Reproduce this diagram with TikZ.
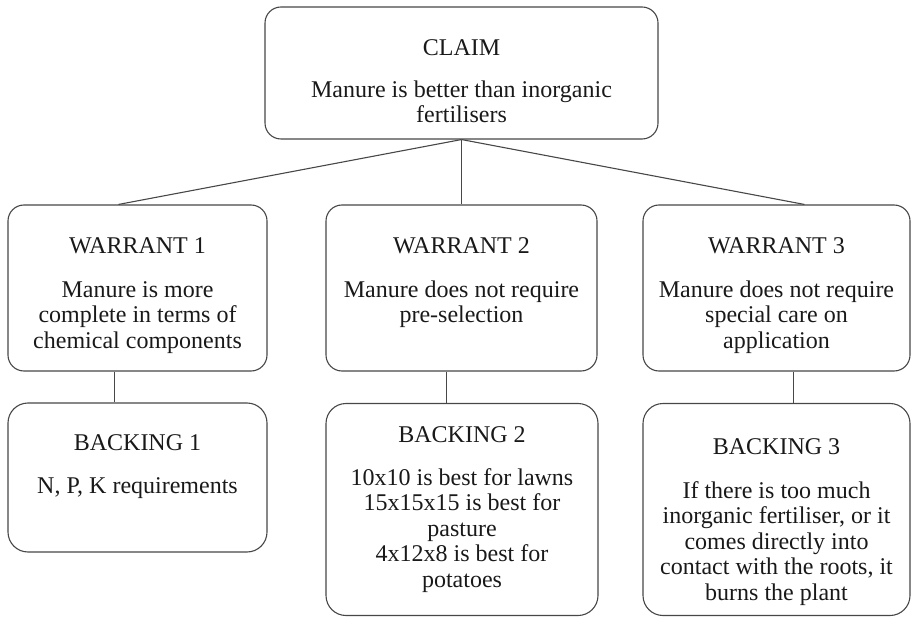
\documentclass[tikz,border=0pt]{standalone}
\usepackage{fontspec}
\setmainfont{Liberation Serif}
\newcommand{\fl}{\rule{0pt}{18pt}}
\begin{document}
\begin{tikzpicture}[x=1pt,y=-1pt,
  box/.style={draw=black!72, line width=1.1pt, rounded corners=16pt, inner sep=0pt},
  bbox/.style={box, rounded corners=20pt},
  txt/.style={inner sep=0pt, align=center, font=\fontsize{24}{25.5}\selectfont, text=black!90},
  ttl/.style={txt, anchor=base},
  bdy/.style={txt, anchor=north},
  link/.style={draw=black!72, line width=1.1pt}]
\useasboundingbox (0,0) rectangle (912,617);
% boxes
\node[box, minimum width=393pt, minimum height=132pt] (claim) at (461.5,73) {};
\node[box, minimum width=259pt, minimum height=166pt] (w1) at (137.5,288) {};
\node[box, minimum width=271pt, minimum height=166pt] (w2) at (461.5,288) {};
\node[box, minimum width=267pt, minimum height=166pt] (w3) at (776.5,288) {};
\node[bbox, minimum width=259pt, minimum height=149pt] (b1) at (137.5,477.5) {};
\node[bbox, minimum width=272pt, minimum height=212pt] (b2) at (462,509.5) {};
\node[bbox, minimum width=267pt, minimum height=212pt] (b3) at (776.5,509.5) {};
% texts
\node[ttl] (tclaim) at (461.5,56) {CLAIM};
\node[bdy] (bclaim) at (461.5,79) {\fl Manure is better than inorganic\\fertilisers};
\node[ttl] (tw1) at (137.5,254) {WARRANT 1};
\node[bdy] (bw1) at (137.5,279) {\fl Manure is more\\complete in terms of\\chemical components};
\node[ttl] (tw2) at (461.5,254) {WARRANT 2};
\node[bdy] (bw2) at (461.5,279) {\fl Manure does not require\\pre-selection};
\node[ttl] (tw3) at (776.5,254) {WARRANT 3};
\node[bdy] (bw3) at (776.5,279) {\fl Manure does not require\\special care on\\application};
\node[ttl] (tb1) at (137.5,450) {BACKING 1};
\node[bdy] (bb1) at (137.5,475) {\fl N, P, K requirements};
\node[ttl] (tb2) at (462,442) {BACKING 2};
\node[bdy] (bb2) at (462,467) {\fl 10x10 is best for lawns\\15x15x15 is best for\\pasture\\4x12x8 is best for\\potatoes};
\node[ttl] (tb3) at (776.5,454) {BACKING 3};
\node[bdy] (bb3) at (776.5,480) {\fl If there is too much\\inorganic fertiliser, or it\\comes directly into\\contact with the roots, it\\burns the plant};
% connectors
\draw[link] (claim.south) -- ([xshift=111pt]w1.north west);
\draw[link] (claim.south) -- (w2.north);
\draw[link] (claim.south) -- ([xshift=162pt]w3.north west);
\draw[link] ([xshift=107pt]w1.south west) -- ([xshift=107pt]b1.north west);
\draw[link] ([xshift=121pt]w2.south west) -- ([xshift=121pt]b2.north west);
\draw[link] ([xshift=151pt]w3.south west) -- ([xshift=151pt]b3.north west);
\end{tikzpicture}
\end{document}
